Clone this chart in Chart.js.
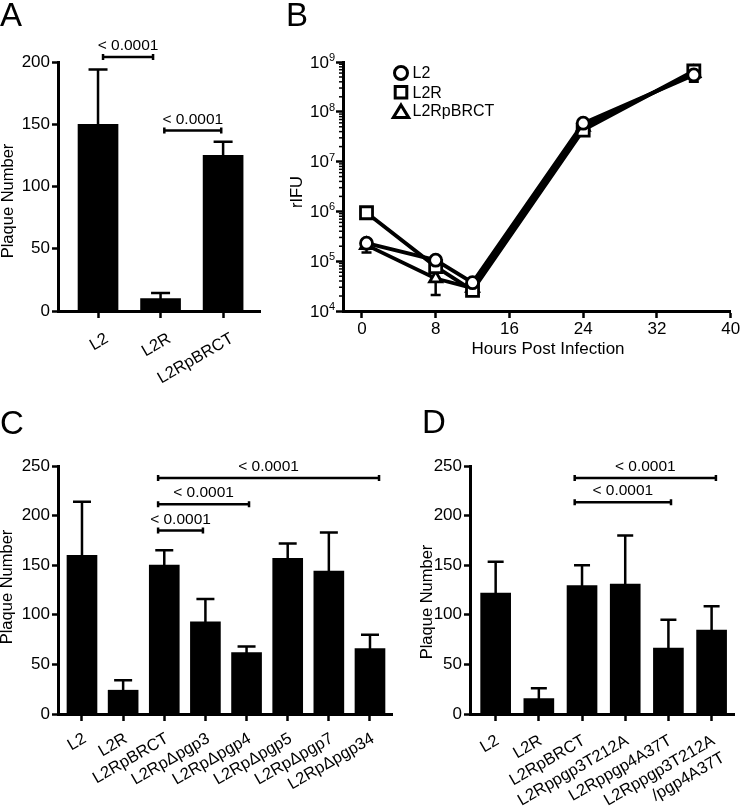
<!DOCTYPE html>
<html><head><meta charset="utf-8">
<script src="https://cdn.jsdelivr.net/npm/chart.js@4"></script>
<style>
html,body{margin:0;padding:0;background:#fff;}
#wrap{position:relative;width:742px;height:809px;overflow:hidden;font-family:"Liberation Sans",Arial,Helvetica,sans-serif;}
canvas{position:absolute;}
.lbl{position:absolute;font-size:33px;line-height:33px;color:#000;}
</style></head><body>
<div id="wrap">
<canvas id="cA" width="290" height="400" style="left:0;top:0"></canvas>
<canvas id="cB" width="452" height="380" style="left:290px;top:0"></canvas>
<canvas id="cC" width="400" height="429" style="left:0;top:380px"></canvas>
<canvas id="cD" width="342" height="429" style="left:400px;top:380px"></canvas>
<div class="lbl" style="left:0;top:-2px">A</div>
<div class="lbl" style="left:286px;top:-2px">B</div>
<div class="lbl" style="left:0;top:406px">C</div>
<div class="lbl" style="left:422px;top:405px">D</div>
</div>
<script>
// ---------- DATA ----------
const pLabel = '< 0.0001';
// Panel A
const catsA = ['L2', 'L2R', 'L2RpBRCT'];
const meanA = [150, 10, 125];
const errA = [44, 4.5, 11];
const bracketsA = [[0.08, 0.88, 204], [1.06, 1.97, 145]];   // from, to (category units), level
// Panel B
const hours = [0.5, 8, 12, 24, 36];
const rifuL2 = [2.3e5, 1.05e5, 3.7e4, 5.9e7, 5.5e8];
const rifuL2R = [9.4e5, 7.8e4, 2.6e4, 4.3e7, 6.6e8];
const rifuBRCT = [2.1e5, 4.5e4, 2.9e4, 5.0e7, 6.0e8];
const sdL2 = [0, 0, 0, 0, 1.5e8];
const sdL2R = [0, 0, 0, 0, 0];
const sdBRCT = [6e4, 2.4e4, 0, 0, 0];
const hourTicks = [0, 8, 16, 24, 32, 40];
const decades = [1e4, 1e5, 1e6, 1e7, 1e8, 1e9];
// Panel C
const catsC = ['L2', 'L2R', 'L2RpBRCT', 'L2Rp\u0394pgp3', 'L2Rp\u0394pgp4', 'L2Rp\u0394pgp5', 'L2Rp\u0394pgp7', 'L2Rp\u0394pgp34'];
const meanC = [160, 24, 150, 93, 62, 157, 144, 66];
const errC = [54, 10, 15, 23, 6, 15, 39, 14];
const bracketsC = [[1.85, 7.22, 238], [1.85, 4.06, 211.5], [1.85, 2.94, 185]];
// Panel D
const catsD = ['L2', 'L2R', 'L2RpBRCT', 'L2Rppgp3T212A', 'L2Rppgp4A37T', ['L2Rppgp3T212A', '/pgp4A37T']];
const meanD = [122, 15.5, 129.5, 131, 66.5, 84.5];
const errD = [31.5, 10.5, 20.5, 49, 28.5, 24];
const bracketsD = [[1.83, 5.10, 238], [1.83, 4.06, 213.5]];

// ---------- SETUP ----------
const FONT = '"Liberation Sans", Arial, Helvetica, sans-serif';
Chart.defaults.font.family = FONT;
Chart.defaults.color = '#000';

const drawers = {};
Chart.register({
  id: 'extras',
  beforeDatasetsDraw(chart) { const d = drawers[chart.canvas.id]; if (d && d.before) d.before(chart); },
  afterDatasetsDraw(chart) { const d = drawers[chart.canvas.id]; if (d && d.after) d.after(chart); }
});

function vTitle(ctx, text, x, y, size) {
  ctx.save();
  ctx.translate(x, y); ctx.rotate(-Math.PI / 2);
  ctx.font = size + 'px ' + FONT; ctx.fillStyle = '#000';
  ctx.textAlign = 'center'; ctx.textBaseline = 'middle';
  ctx.fillText(text, 0, 0);
  ctx.restore();
}

function barPanel(id, cats, means, errs, brackets, o) {
  drawers[id] = {
    after(chart) {
      const ctx = chart.ctx, xs = chart.scales.x, ys = chart.scales.y;
      ctx.save();
      ctx.strokeStyle = '#000'; ctx.fillStyle = '#000'; ctx.lineWidth = 2.5;
      means.forEach((m, i) => {
        const x = xs.getPixelForValue(i);
        const y0 = ys.getPixelForValue(m), y1 = ys.getPixelForValue(m + errs[i]);
        ctx.beginPath();
        ctx.moveTo(x, y0 + 2); ctx.lineTo(x, y1);
        ctx.moveTo(x - o.cap, y1); ctx.lineTo(x + o.cap, y1);
        ctx.stroke();
      });
      brackets.forEach(b => {
        const xa = xs.getPixelForValue(b[0]), xb = xs.getPixelForValue(b[1]), y = ys.getPixelForValue(b[2]);
        ctx.beginPath();
        ctx.moveTo(xa, y); ctx.lineTo(xb, y);
        ctx.moveTo(xa, y - 3); ctx.lineTo(xa, y + 3);
        ctx.moveTo(xb, y - 3); ctx.lineTo(xb, y + 3);
        ctx.stroke();
        ctx.font = '15.5px ' + FONT; ctx.textAlign = 'center'; ctx.textBaseline = 'middle';
        ctx.fillText(pLabel, (xa + xb) / 2, y - 11);
      });
      ctx.restore();
      vTitle(ctx, 'Plaque Number', o.tx, o.ty, 16.5);
    }
  };
  return new Chart(document.getElementById(id), {
    type: 'bar',
    data: { datasets: [{ data: cats.map((c, i) => ({ x: i, y: means[i] })), backgroundColor: '#000', borderWidth: 0, barThickness: o.barW }] },
    options: {
      responsive: false, animation: false,
      layout: { padding: { top: o.top, right: o.right, left: 0, bottom: 0 } },
      plugins: { legend: { display: false }, tooltip: { enabled: false } },
      scales: {
        x: {
          type: 'linear', min: o.xmin, max: o.xmax, bounds: 'data', offset: false,
          grid: { drawOnChartArea: false, offset: false, tickLength: 7, tickWidth: 2.5, tickColor: '#000' },
          border: { color: '#000', width: 3 },
          afterBuildTicks: s => { s.ticks = cats.map((c, i) => ({ value: i })); },
          afterFit: s => { s.height = o.xH; },
          ticks: { callback: v => cats[v], minRotation: 30, maxRotation: 30, autoSkip: false,
                   font: { size: 16.5 }, color: '#000', padding: o.lp, labelOffset: o.lo }
        },
        y: {
          min: 0, max: o.ymax,
          afterFit: s => { s.width = o.yW; },
          ticks: { stepSize: 50, font: { size: 17 }, color: '#000', padding: 2 },
          grid: { drawOnChartArea: false, tickLength: 6, tickWidth: 2.5, tickColor: '#000' },
          border: { color: '#000', width: 3 }
        }
      }
    }
  });
}

barPanel('cA', catsA, meanA, errA, bracketsA,
  { barW: 40, cap: 9.5, top: 62, right: 30, xH: 89, yW: 58, xmin: -0.64, xmax: 2.59, ymax: 200, tx: 8.5, ty: 201, lp: 11, lo: 9 });
barPanel('cC', catsC, meanC, errC, bracketsC,
  { barW: 30, cap: 9, top: 86, right: 8, xH: 95, yW: 58, xmin: -0.583, xmax: 7.535, ymax: 250, tx: 7, ty: 207, lp: 8, lo: 3 });
barPanel('cD', catsD, meanD, errD, bracketsD,
  { barW: 30, cap: 8, top: 86, right: 7, xH: 95, yW: 70, xmin: -0.594, xmax: 5.524, ymax: 250, tx: 27, ty: 222, lp: 10, lo: 2 });

// ---------- PANEL B ----------
const seriesB = [
  { label: 'L2', vals: rifuL2, sd: sdL2, style: 'circle', r: 6 },
  { label: 'L2R', vals: rifuL2R, sd: sdL2R, style: 'rect', r: 8.5 },
  { label: 'L2RpBRCT', vals: rifuBRCT, sd: sdBRCT, style: 'triangle', r: 7 }
];

function marker(ctx, style, x, y, s) {
  ctx.beginPath();
  if (style === 'circle') ctx.arc(x, y, s, 0, Math.PI * 2);
  else if (style === 'rect') ctx.rect(x - s, y - s, 2 * s, 2 * s);
  else { ctx.moveTo(x, y - s); ctx.lineTo(x + s * 1.1, y + s * 0.8); ctx.lineTo(x - s * 1.1, y + s * 0.8); ctx.closePath(); }
  ctx.fill(); ctx.stroke();
}

drawers['cB'] = {
  before(chart) {
    const ctx = chart.ctx, xs = chart.scales.x, ys = chart.scales.y;
    ctx.save(); ctx.strokeStyle = '#000'; ctx.lineWidth = 2.5;
    seriesB.forEach(s => {
      s.sd.forEach((sd, i) => {
        if (!sd) return;
        const x = xs.getPixelForValue(hours[i]);
        const lo = ys.getPixelForValue(Math.max(s.vals[i] - sd, 1e4)), hi = ys.getPixelForValue(s.vals[i] + sd);
        ctx.beginPath(); ctx.moveTo(x, lo); ctx.lineTo(x, hi);
        ctx.moveTo(x - 5, lo); ctx.lineTo(x + 5, lo); ctx.moveTo(x - 5, hi); ctx.lineTo(x + 5, hi);
        ctx.stroke();
      });
    });
    ctx.restore();
  },
  after(chart) {
    const ctx = chart.ctx, ys = chart.scales.y, ca = chart.chartArea;
    ctx.save();
    ctx.fillStyle = '#000'; ctx.strokeStyle = '#000';
    // minor ticks
    ctx.lineWidth = 1.5;
    for (let e = 4; e < 9; e++) {
      for (let k = 2; k <= 9; k++) {
        const y = ys.getPixelForValue(k * Math.pow(10, e));
        ctx.beginPath(); ctx.moveTo(ca.left - 4, y); ctx.lineTo(ca.left - 1, y); ctx.stroke();
      }
    }
    // decade labels with superscripts
    decades.forEach(v => {
      const y = ys.getPixelForValue(v);
      const ex = String(Math.round(Math.log10(v)));
      ctx.font = '11px ' + FONT; ctx.textAlign = 'right'; ctx.textBaseline = 'alphabetic';
      const right = ca.left - 8;
      ctx.fillText(ex, right, y - 1);
      const w = ctx.measureText(ex).width;
      ctx.font = '17px ' + FONT; ctx.textBaseline = 'middle';
      ctx.fillText('10', right - w, y + 1);
    });
    // axis titles
    ctx.font = '17px ' + FONT; ctx.textAlign = 'center'; ctx.textBaseline = 'middle';
    ctx.fillText('Hours Post Infection', 258, 349);
    ctx.restore();
    vTitle(ctx, 'rIFU', 7, 192, 16.5);
    // legend
    ctx.save();
    ctx.fillStyle = '#fff'; ctx.strokeStyle = '#000'; ctx.lineWidth = 3;
    const ly = [73, 92.3, 111];
    seriesB.forEach((s, i) => {
      ctx.fillStyle = '#fff';
      marker(ctx, s.style, 111, ly[i] + (s.style === 'triangle' ? 1 : 0), s.style === 'circle' ? 6.5 : (s.style === 'rect' ? 5.8 : 7));
      ctx.fillStyle = '#000'; ctx.font = '16px ' + FONT; ctx.textAlign = 'left'; ctx.textBaseline = 'middle';
      ctx.fillText(s.label, 122.5, ly[i] + 1);
    });
    ctx.restore();
  }
};

new Chart(document.getElementById('cB'), {
  type: 'line',
  data: {
    datasets: seriesB.map(s => ({
      label: s.label,
      data: hours.map((h, i) => ({ x: h, y: s.vals[i] })),
      borderColor: '#000', borderWidth: 3.8, tension: 0,
      pointStyle: s.style, pointRadius: s.r, pointBackgroundColor: '#fff',
      pointBorderColor: '#000', pointBorderWidth: 2.8
    }))
  },
  options: {
    responsive: false, animation: false,
    layout: { padding: { top: 62, right: 10, left: 0, bottom: 0 } },
    plugins: { legend: { display: false }, tooltip: { enabled: false } },
    scales: {
      x: {
        type: 'linear', min: -2.05, max: 40, bounds: 'data',
        afterBuildTicks: s => { s.ticks = hourTicks.map(v => ({ value: v })); },
        afterFit: s => { s.height = 69; },
        grid: { drawOnChartArea: false, tickLength: 7, tickWidth: 2.5, tickColor: '#000' },
        border: { color: '#000', width: 3 },
        ticks: { font: { size: 17 }, color: '#000', padding: 1, maxRotation: 0 }
      },
      y: {
        type: 'logarithmic', min: 1e4, max: 1e9,
        afterBuildTicks: s => { s.ticks = decades.map(v => ({ value: v, major: true })); },
        afterFit: s => { s.width = 53; },
        grid: { drawOnChartArea: false, tickLength: 7, tickWidth: 2.5, tickColor: '#000' },
        border: { color: '#000', width: 3 },
        ticks: { display: false }
      }
    }
  }
});
</script>
</body></html>
